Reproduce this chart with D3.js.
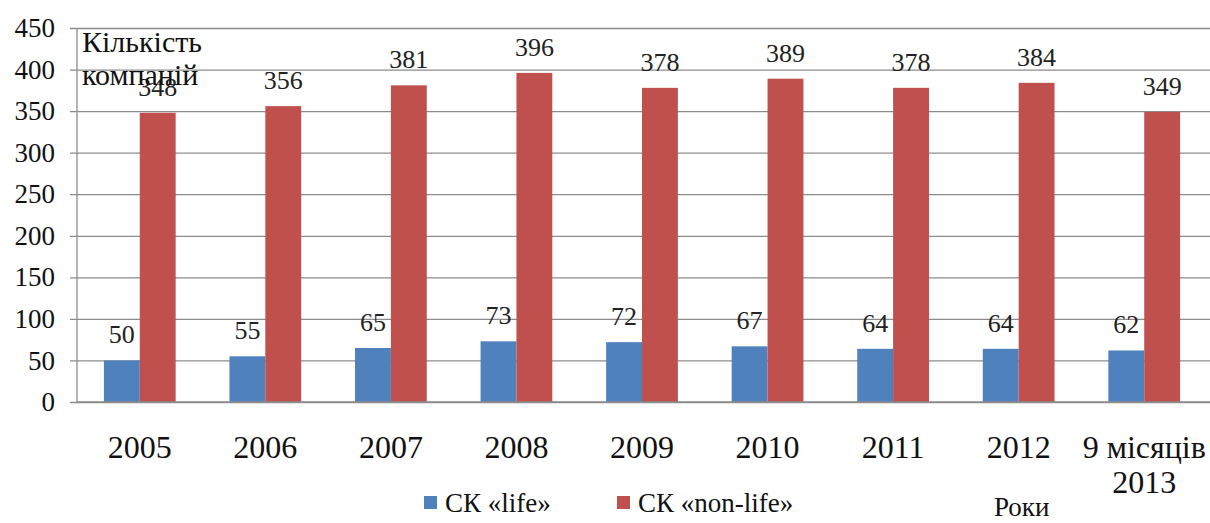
<!DOCTYPE html>
<html>
<head>
<meta charset="utf-8">
<script src="https://cdn.jsdelivr.net/npm/d3@7"></script>
<style>
  html, body { margin: 0; padding: 0; background: #fff; }
  svg { display: block; }
  text { font-family: "Liberation Serif", "Times New Roman", serif !important; }
</style>
</head>
<body>
<svg id="chart" width="1210" height="523"></svg>
<script>
// Кількість страхових компаній за роками
const years = ["2005", "2006", "2007", "2008", "2009", "2010", "2011", "2012", "9 місяців|2013"];
const lifeValues = [50, 55, 65, 73, 72, 67, 64, 64, 62];
const nonLifeValues = [348, 356, 381, 396, 378, 389, 378, 384, 349];
const seriesNames = ["СК «life»", "СК «non-life»"];
const seriesColors = ["#4F81BD", "#C0504D"];
const yTicks = [0, 50, 100, 150, 200, 250, 300, 350, 400, 450];

const svg = d3.select("#chart");
const margin = { left: 77, right: 3, top: 28, bottom: 121 };
const W = 1210, H = 523;

const x = d3.scaleBand().domain(years).range([margin.left, W - margin.right]).padding(0);
const inner = d3.scaleBand().domain([0, 1]).range([0, x.bandwidth()]).paddingInner(0).paddingOuter(0.75);
const y = d3.scaleLinear().domain([0, 450]).range([H - margin.bottom, margin.top]);

// gridlines + y axis
const yAxis = d3.axisLeft(y).tickValues(yTicks).tickSize(-(W - margin.left)).tickSizeOuter(0).tickPadding(22);
const gy = svg.append("g").attr("transform", `translate(${margin.left},0)`).call(yAxis);
gy.attr("font-family", null);
gy.select(".domain").remove();
gy.selectAll(".tick line").attr("stroke", "#8c8c8c").attr("stroke-width", 1.3).attr("x1", -7);
gy.selectAll(".tick text").attr("font-size", 27).attr("fill", "#111");

// left axis line
svg.append("line")
  .attr("x1", margin.left).attr("x2", margin.left)
  .attr("y1", y(450)).attr("y2", y(0))
  .attr("stroke", "#8c8c8c").attr("stroke-width", 1.3);

// bars with value labels
const series = [lifeValues, nonLifeValues];
series.forEach((vals, s) => {
  const g = svg.append("g");
  g.selectAll("rect").data(vals).join("rect")
    .attr("x", (d, i) => x(years[i]) + inner(s))
    .attr("width", inner.bandwidth())
    .attr("y", d => y(d))
    .attr("height", d => y(0) - y(d))
    .attr("fill", seriesColors[s]);
  g.selectAll("text").data(vals).join("text")
    .attr("x", (d, i) => x(years[i]) + inner(s) + inner.bandwidth() / 2)
    .attr("y", d => y(d) - 17)
    .attr("text-anchor", "middle")
    .attr("font-size", 26)
    .attr("fill", "#222")
    .text(d => d);
});

// baseline
svg.append("line")
  .attr("x1", margin.left).attr("x2", W)
  .attr("y1", y(0)).attr("y2", y(0))
  .attr("stroke", "#8c8c8c").attr("stroke-width", 1.3);

// category labels
const xl = svg.append("g");
years.forEach(c => {
  const cx = x(c) + x.bandwidth() / 2;
  const t = xl.append("text")
    .attr("x", cx)
    .attr("y", 458)
    .attr("text-anchor", "middle")
    .attr("font-size", 32)
    .attr("fill", "#111");
  c.split("|").forEach((ln, k) => {
    t.append("tspan").attr("x", cx).attr("dy", k === 0 ? 0 : 35).text(ln);
  });
});

// y axis title
const yt = svg.append("text").attr("x", 82).attr("y", 52)
  .attr("font-size", 30).attr("fill", "#111");
yt.append("tspan").attr("x", 82).text("Кількість");
yt.append("tspan").attr("x", 82).attr("dy", 33).text("компаній");

// x axis title
svg.append("text").attr("x", 994).attr("y", 516)
  .attr("font-size", 27).attr("fill", "#111").text("Роки");

// legend
const legendX = [424, 617];
legendX.forEach((lx, i) => {
  svg.append("rect").attr("x", lx).attr("y", 496).attr("width", 13).attr("height", 13).attr("fill", seriesColors[i]);
  svg.append("text").attr("x", lx + 21).attr("y", 512)
    .attr("font-size", 27).attr("fill", "#111").text(seriesNames[i]);
});
</script>
</body>
</html>
